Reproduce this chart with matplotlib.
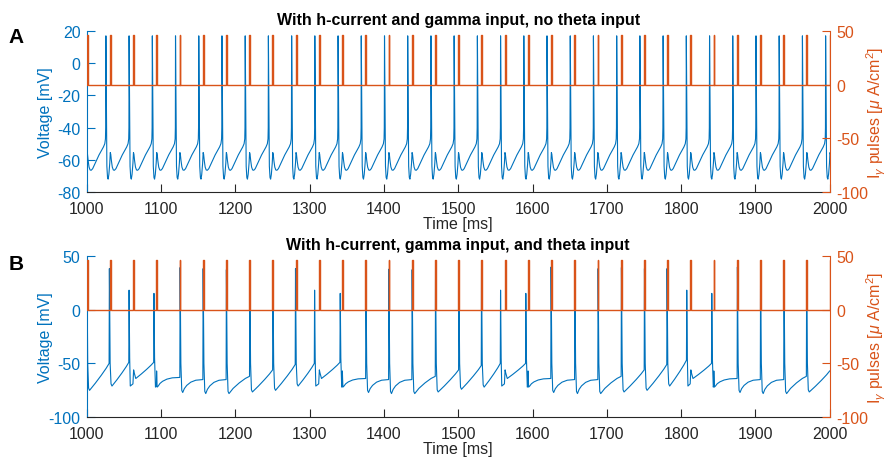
import numpy as np
import matplotlib.pyplot as plt

plt.rcParams['font.family'] = ['Liberation Sans', 'DejaVu Sans']
plt.rcParams['mathtext.fontset'] = 'custom'
plt.rcParams['mathtext.rm'] = 'Liberation Sans'
plt.rcParams['mathtext.it'] = 'Liberation Sans:italic'
plt.rcParams['axes.unicode_minus'] = False

BLUE = '#0072BD'
ORANGE = '#D95319'
GREY = '#262626'

# gamma pulse onsets [ms] (same train in both panels)
pulse_times = [1000.0, 1031.25, 1062.5, 1093.75, 1125.0, 1156.25, 1187.5, 1218.75,
               1250.0, 1281.25, 1312.5, 1343.75, 1375.0, 1406.25, 1437.5, 1468.75,
               1500.0, 1531.25, 1562.5, 1593.75, 1625.0, 1656.25, 1687.5, 1718.75,
               1750.0, 1781.25, 1812.5, 1843.75, 1875.0, 1906.25, 1937.5, 1968.75, 2000.0]
pulse_height = 46.0
pulse_len = 1.2

# panel A: spike peak times [ms] and the shape of one cycle (ms after peak, mV)
spikes_a = [994.5, 1025.8, 1057.0, 1088.3, 1119.5, 1150.8, 1182.0, 1213.3, 1244.5,
            1275.8, 1307.0, 1338.3, 1369.5, 1400.8, 1432.0, 1463.3, 1494.5, 1525.8,
            1557.0, 1588.3, 1619.5, 1650.8, 1682.0, 1713.3, 1744.5, 1775.8, 1807.0,
            1838.3, 1869.5, 1900.8, 1932.0, 1963.3, 1994.5]
cycle_a_off = [0, 0.6, 1.3, 2.2, 3.0, 4.0, 5.2, 5.9, 6.5, 7.4, 8.6, 10.0, 11.5,
               13.5, 16, 19, 22, 25, 28, 29.8, 30.7, 31.0]
cycle_a_mv = [17, -25, -64, -71, -72, -69, -62, -55.5, -56.5, -60.5, -64.5, -66.3,
              -66.5, -65.5, -63, -60, -57, -54.5, -52, -50, -47, -40]

# panel B: spike peak times [ms], peak and trough [mV], level before the next spike,
# kind (c = on the pulse, e = early with bump, E = early, pulse right after) and recovery shape
spikes_b = [1000.3, 1030.5, 1057.0, 1090.5, 1125.7, 1156.7, 1188.0, 1219.5, 1250.6,
            1281.0, 1306.7, 1341.2, 1375.8, 1406.7, 1438.0, 1469.5, 1500.9, 1531.4,
            1557.0, 1591.0, 1625.0, 1657.0, 1688.3, 1719.7, 1750.7, 1781.1, 1807.6,
            1841.3, 1875.8, 1907.0, 1938.5, 1969.0]
peaks_b = [37, 38, 18, 15, 39, 38, 37, 39, 37, 38, 18, 15, 39, 37.5, 37, 39.5,
           38, 38, 18, 15, 39.5, 37.5, 38, 39, 38, 38, 18, 15, 39.5, 37.5, 38, 39]
troughs_b = [-75, -71, -71, -72, -77, -78, -78, -76.5, -75, -71, -71, -72, -77, -78,
             -78, -76.5, -74, -72, -71, -72, -77, -78, -78, -76.5, -75, -71, -71, -72,
             -77, -78, -78, -76.5]
levels_b = [-50, -49, -49, -63, -65, -65, -62, -56, -51, -50, -49, -64, -65, -65, -62,
            -56, -52, -50, -50, -64, -65, -65, -62, -56, -51, -47, -50, -64, -65, -65,
            -62, -57]
kinds_b = ['c', 'c', 'e', 'E', 'c', 'c', 'c', 'c', 'c', 'c', 'e', 'E', 'c', 'c', 'c', 'c',
           'c', 'c', 'e', 'E', 'c', 'c', 'c', 'c', 'c', 'c', 'e', 'E', 'c', 'c', 'c', 'c']
shapes_b = ['ramp', 'ramp', 'ramp', 'sag', 'sag', 'sag', 'mid', 'ramp', 'ramp', 'ramp',
            'ramp', 'sag', 'sag', 'sag', 'mid', 'ramp', 'ramp', 'ramp', 'ramp', 'sag',
            'sag', 'sag', 'mid', 'ramp', 'ramp', 'ramp', 'ramp', 'sag', 'sag', 'sag',
            'mid', 'ramp']

# recovery shapes (fraction of time, fraction of rise)
shape_pts = {
    'sag': ([0, 0.08, 0.2, 0.4, 0.65, 1.0], [0, 0.3, 0.55, 0.8, 0.95, 1.0]),
    'mid': ([0, 0.2, 0.5, 0.8, 1.0], [0, 0.3, 0.62, 0.88, 1.0]),
    'ramp': ([0, 0.3, 0.6, 0.85, 1.0], [0, 0.27, 0.56, 0.82, 1.0]),
}
# pulse response after an early spike (ms from the pulse, mV)
bump_e_t = [-0.3, 0.6, 1.5, 3.5]
bump_e_v = [-69, -56, -59, -64]
bump_E_t = [0.0, 0.3, 1.0, 2.5]
bump_E_v = [-71, -57, -72, -71]


def pulse_trace():
    t, v = [990.0], [0.0]
    for p in pulse_times:
        t += [p, p, p + pulse_len, p + pulse_len]
        v += [0, pulse_height, pulse_height, 0]
    t.append(2010.0)
    v.append(0.0)
    return t, v


def trace_a():
    t, v = [], []
    for s in spikes_a:
        t += [s + o for o in cycle_a_off]
        v += cycle_a_mv
    return t, v


def trace_b():
    t, v = [], []
    last = -50.0
    for i, s in enumerate(spikes_b):
        nxt = spikes_b[i + 1] if i + 1 < len(spikes_b) else 2000.4
        t += [s - 0.4, s]
        v += [last, peaks_b[i]]
        p = min(pp for pp in pulse_times if pp > s + 1.0)
        if kinds_b[i] == 'e':
            t += [s + 0.8, s + 1.6] + [p + o for o in bump_e_t]
            v += [-45, troughs_b[i]] + bump_e_v
        elif kinds_b[i] == 'E':
            t += [s + 0.8, s + 2.0] + [p + o for o in bump_E_t]
            v += [-45, troughs_b[i]] + bump_E_v
        else:
            t += [s + 1.0, s + 2.2, s + 3.5]
            v += [-50, troughs_b[i] + 2, troughs_b[i]]
        t0, v0 = t[-1], v[-1]
        fx, fy = shape_pts[shapes_b[i]]
        for a, b in zip(fx[1:], fy[1:]):
            t.append(t0 + a * (nxt - 0.4 - t0))
            v.append(v0 + b * (levels_b[i] - v0))
        last = levels_b[i]
    return t, v


def style(ax, ax2, ylim, yticks, title):
    ax.set_xlim(1000, 2000)
    ax.set_ylim(*ylim)
    ax.set_yticks(yticks)
    ax.set_xticks(np.arange(1000, 2001, 100))
    ax2.set_ylim(-100, 50)
    ax2.set_yticks([-100, -50, 0, 50])
    for a in (ax, ax2):
        a.spines['top'].set_visible(False)
        for sp in a.spines.values():
            sp.set_linewidth(0.8)
    ax.spines['left'].set_color(BLUE)
    ax.spines['right'].set_visible(False)
    ax.spines['bottom'].set_color(GREY)
    ax2.spines['right'].set_color(ORANGE)
    ax2.spines['left'].set_visible(False)
    ax2.spines['bottom'].set_visible(False)
    ax.tick_params(axis='x', direction='in', length=5.5, width=0.8, colors=GREY,
                   labelsize=11.5, pad=6.5)
    ax.tick_params(axis='y', direction='in', length=5.5, width=0.8, colors=BLUE,
                   labelsize=11.5, pad=4.5)
    ax2.tick_params(axis='y', direction='in', length=5.5, width=0.8, colors=ORANGE,
                    labelsize=11.5, pad=4.5)
    ax.set_xlabel('Time [ms]', fontsize=11.5, color=GREY, labelpad=0)
    ax.set_ylabel('Voltage [mV]', fontsize=11.5, color=BLUE)
    ax.yaxis.set_label_coords(-0.046, 0.5)
    ax2.set_ylabel(r'I$_\gamma$ pulses [$\mu$ A/cm$^2$]', fontsize=11.5, color=ORANGE)
    ax2.yaxis.set_label_coords(1.047, 0.5)
    ax.set_title(title, fontsize=11.5, fontweight='bold', pad=5)


fig = plt.figure(figsize=(8.96, 4.6), dpi=100)
ax_a = fig.add_axes([0.0968, 0.5804, 0.8292, 0.35])
ax_b = fig.add_axes([0.0968, 0.0907, 0.8292, 0.3513])

pt, pv = pulse_trace()
at, av = trace_a()
bt, bv = trace_b()

ax_a.plot(at, av, color=BLUE, lw=0.8)
ax_a2 = ax_a.twinx()
ax_a2.plot(pt, pv, color=ORANGE, lw=1.0)
style(ax_a, ax_a2, (-80, 20), [-80, -60, -40, -20, 0, 20],
      'With h-current and gamma input, no theta input')

ax_b.plot(bt, bv, color=BLUE, lw=0.8)
ax_b2 = ax_b.twinx()
ax_b2.plot(pt, pv, color=ORANGE, lw=1.0)
style(ax_b, ax_b2, (-100, 50), [-100, -50, 0, 50],
      'With h-current, gamma input, and theta input')

fig.text(8.3 / 896, 1 - 43.3 / 460, 'A', fontsize=15, fontweight='bold', va='baseline')
fig.text(8.3 / 896, 1 - 270 / 460, 'B', fontsize=15, fontweight='bold', va='baseline')

fig.savefig('out.png', dpi=100)
